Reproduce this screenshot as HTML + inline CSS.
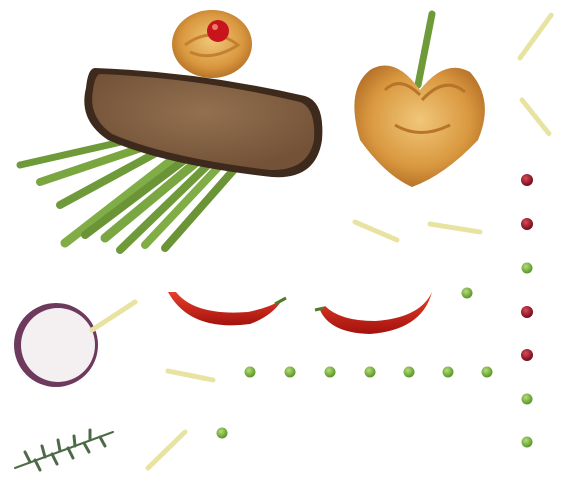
<!DOCTYPE html>
<html><head><meta charset="utf-8"><style>
html,body{margin:0;padding:0;background:#fff;width:571px;height:492px;overflow:hidden}
</style></head><body>
<svg width="571" height="492" viewBox="0 0 571 492">
<defs>
<radialGradient id="bun" cx="50%" cy="45%" r="55%"><stop offset="0" stop-color="#f0c77a"/><stop offset="0.7" stop-color="#d9983f"/><stop offset="1" stop-color="#b8742a"/></radialGradient>
<radialGradient id="crumb" cx="50%" cy="40%" r="60%"><stop offset="0" stop-color="#93704f"/><stop offset="1" stop-color="#735238"/></radialGradient>
<radialGradient id="pea" cx="40%" cy="35%" r="60%"><stop offset="0" stop-color="#b6dc7a"/><stop offset="1" stop-color="#5f9a2e"/></radialGradient>
<radialGradient id="berry" cx="40%" cy="35%" r="60%"><stop offset="0" stop-color="#d84a5a"/><stop offset="1" stop-color="#7a0f1e"/></radialGradient>
<linearGradient id="chili" x1="0" y1="0" x2="0" y2="1"><stop offset="0" stop-color="#e8402a"/><stop offset="1" stop-color="#a3120d"/></linearGradient>
</defs>

<g stroke-linecap="round" fill="none">
<path d="M20 165 L130 140" stroke="#6f9a3a" stroke-width="7"/>
<path d="M40 182 L150 145" stroke="#7aa640" stroke-width="8"/>
<path d="M60 205 L165 148" stroke="#6f9a3a" stroke-width="8"/>
<path d="M65 243 L185 150" stroke="#80ad45" stroke-width="9"/>
<path d="M85 235 L195 152" stroke="#6a9436" stroke-width="8"/>
<path d="M105 238 L205 155" stroke="#7ba742" stroke-width="9"/>
<path d="M120 250 L215 158" stroke="#6f9a3a" stroke-width="8"/>
<path d="M145 245 L225 160" stroke="#80ad45" stroke-width="8"/>
<path d="M165 248 L238 165" stroke="#6a9436" stroke-width="8"/>
</g>

<g>
<path d="M95 68 Q200 72 305 96 Q325 102 322 140 Q316 180 272 177 Q165 165 108 140 Q78 120 86 88 Q88 68 95 68Z" fill="#3d2a1c"/>
<path d="M100 74 Q200 78 300 102 Q316 108 314 140 Q308 171 270 170 Q168 158 112 134 Q88 117 93 90 Q95 75 100 74Z" fill="url(#crumb)"/>
</g>

<g>
<ellipse cx="212" cy="44" rx="40" ry="34" fill="url(#bun)"/>
<path d="M185 45 Q212 25 238 45 Q212 62 190 52" fill="none" stroke="#c4802f" stroke-width="3"/>
<circle cx="218" cy="31" r="11" fill="#c8141c"/>
<circle cx="215" cy="27" r="3" fill="#f07a6a"/>
</g>

<path d="M432 14 L418 85" stroke="#6f9a3a" stroke-width="7" stroke-linecap="round"/>

<g>
<path d="M420 90 Q395 55 370 70 Q345 90 360 140 Q385 175 412 187 Q445 175 478 140 Q495 100 470 72 Q445 58 420 90Z" fill="url(#bun)"/>
<path d="M420 95 Q400 75 385 90 M422 100 Q445 75 465 92 M395 125 Q420 140 450 125" fill="none" stroke="#b8742a" stroke-width="3"/>
</g>

<g>
<circle cx="56" cy="345" r="42" fill="#6d3a5e"/>
<circle cx="58" cy="345" r="37" fill="#f4f0f2"/>
</g>

<path d="M168 292 Q190 332 250 324 Q272 316 282 300 Q268 308 248 312 Q195 316 176 292Z" fill="url(#chili)"/>
<path d="M275 304 L286 298" stroke="#4f7a2a" stroke-width="3"/>
<path d="M320 310 Q330 333 370 334 Q422 330 432 292 Q420 318 375 321 Q340 321 325 306Z" fill="url(#chili)"/>
<path d="M324 308 L315 310" stroke="#4f7a2a" stroke-width="3"/>

<g stroke="#4e6b48" stroke-linecap="round">
<path d="M15 468 L113 432" stroke-width="2"/>
<path d="M30 462 L25 452 M45 457 L42 446 M60 451 L58 440 M75 446 L74 436 M90 440 L90 430 M35 460 L40 470 M52 454 L57 464 M68 448 L73 458 M84 443 L89 452 M100 437 L105 446" stroke-width="3"/>
</g>

<g fill="none" stroke="#e8e3a0" stroke-width="5" stroke-dasharray="3 2" stroke-linecap="round">
<path d="M520 58 L552 14"/>
<path d="M522 100 L550 135"/>
<path d="M355 222 L397 240"/>
<path d="M430 224 L480 232"/>
<path d="M92 330 L135 302"/>
<path d="M168 371 L213 380"/>
<path d="M148 468 L185 432"/>
</g>

<g fill="url(#berry)">
<circle cx="527" cy="180" r="6"/><circle cx="527" cy="224" r="6"/><circle cx="527" cy="312" r="6"/><circle cx="527" cy="355" r="6"/>
</g>

<g fill="url(#pea)">
<circle cx="527" cy="268" r="5.5"/><circle cx="467" cy="293" r="5.5"/>
<circle cx="250" cy="372" r="5.5"/><circle cx="290" cy="372" r="5.5"/><circle cx="330" cy="372" r="5.5"/><circle cx="370" cy="372" r="5.5"/><circle cx="409" cy="372" r="5.5"/><circle cx="448" cy="372" r="5.5"/><circle cx="487" cy="372" r="5.5"/>
<circle cx="527" cy="399" r="5.5"/><circle cx="222" cy="433" r="5.5"/><circle cx="527" cy="442" r="5.5"/>
</g>
</svg>
</body></html>
